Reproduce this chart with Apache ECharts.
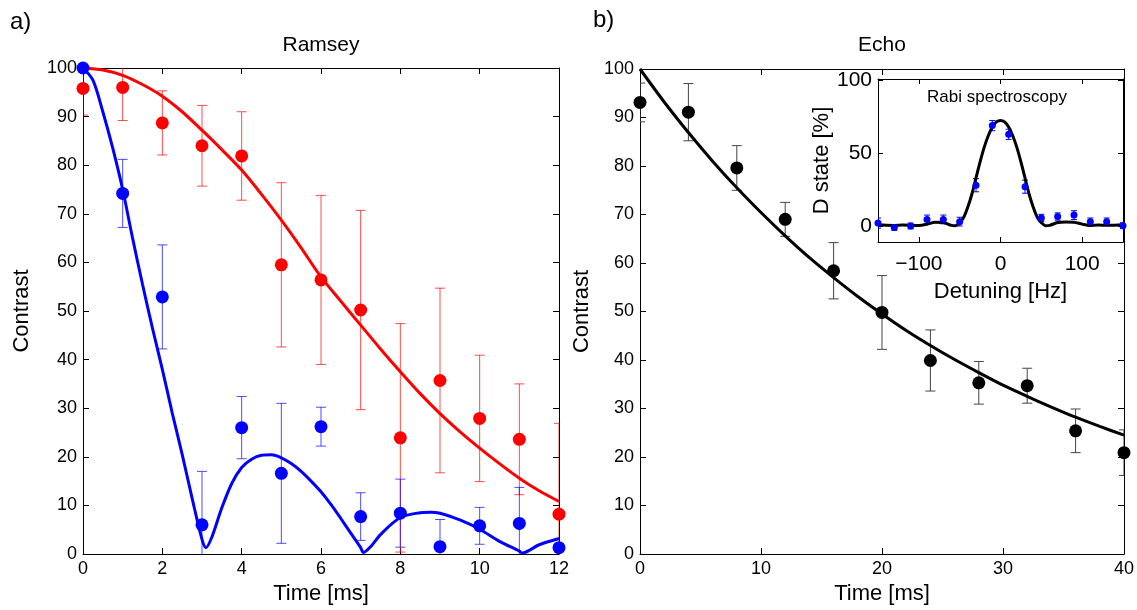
<!DOCTYPE html>
<html><head><meta charset="utf-8">
<script src="https://cdn.jsdelivr.net/npm/echarts@6/dist/echarts.min.js"></script>
<style>html,body{margin:0;padding:0;background:#fff}#c{width:1137px;height:610px}</style>
</head><body><div id="c"></div>
<script>
// ---------- data ----------
const ramseyT = [0,1,2,3,4,5,6,7,8,9,10,11,12];
const ramseyRed = [95.8,96,88.7,84,81.9,59.5,56.4,50.2,23.9,35.7,27.9,23.6,8.2];
const ramseyRedErr = [5.5,6.8,6.6,8.3,9.1,16.9,17.4,20.5,23.5,19,13,11.4,18.7];
const ramseyBlue = [100,74.2,52.9,6,26,16.6,26.2,7.7,8.4,1.5,5.8,6.3,1.3];
const ramseyBlueErr = [0,7,10.7,11,6.4,14.4,4,4.9,7,5.6,3.8,7.4,0];

const redFitT = [0,0.5,1,1.5,2,2.5,3,3.5,4,4.5,5,5.5,6,6.5,7,7.5,8,8.5,9,9.5,10,10.5,11,11.5,12];
const redFitY = [100,99.6,98.5,96.6,94.2,91,87.2,83.2,79,74,68.7,63,57,52,47.1,42.2,37.5,33,28.9,25.2,21.8,18.6,15.6,13,10.8];

const blueFitT = [0,0.25,0.5,0.75,1,1.25,1.5,1.75,2,2.25,2.5,2.75,3,3.1,3.25,3.5,3.75,4,4.25,4.5,4.75,5,5.25,5.5,5.75,6,6.25,6.5,6.75,7,7.07,7.25,7.5,8,8.5,8.75,9,9.5,10,10.5,11,11.07,11.5,12];
const blueFitY = [100,97.5,91,83.5,75,65,55.5,46.5,38,29,20.5,11.5,3,1.3,3.5,9.5,14.5,17.8,19.5,20.3,20.4,19.8,18.6,17,15,12.8,10.2,7.3,4.3,1.3,0.3,1.5,4,7.5,8.5,8.6,8.4,7,5.1,2.6,0.6,0.2,1.9,3.2];

const echoT = [0,4,8,12,16,20,24,28,32,36,40];
const echoY = [93.1,91.1,79.6,69,58.4,49.8,39.9,35.3,34.7,25.4,20.9];
const echoErr = [4,5.9,4.6,3.5,5.8,7.6,6.3,4.4,3.6,4.5,4.7];

const echoFitT = [0,2,4,6,8,10,12,14,16,18,20,22,24,26,28,30,32,34,36,38,40];
const echoFitY = [100,93.2,86.9,81,75.5,70.4,65.6,61.1,57,53.1,49.5,46.1,43,40.1,37.4,34.8,32.5,30.3,28.2,26.3,24.5];

const rabiDet = [-150,-130,-110,-90,-70,-50,-30,-10,10,30,50,70,90,110,130,150];
const rabiY = [2,-1,0,4.5,4.5,3,28,69,63,27,5.5,6.5,7.5,3,3,0.2];
const rabiErr = [3.5,2,2,3,3,3,4.5,3.5,3.5,4.5,2.5,2.5,3,2.5,2.5,2];

const rabiFitDet = [-150,-140,-130,-120,-110,-100,-90,-80,-70,-60,-55,-50,-45,-40,-35,-30,-25,-20,-15,-10,-5,0,5,10,15,20,25,30,35,40,45,50,55,60,70,80,90,100,110,120,130,140,150];
const rabiFitY = [0.8,0.5,0.4,0.6,0.5,0.3,1.2,2.6,2.4,0.4,0.2,2.3,6,13,22,33,44,54,62,68,71.5,72.5,71.5,68,62,54,44,33,22,13,6,2.3,0.2,0.4,2.4,2.8,2.6,1.3,0.4,0.6,0.5,0.5,0.8];

const xTicksRabi = [-100,0,100];
const yTicksRabi = [0,50,100];

// ---------- helpers ----------
const FONT = 'Liberation Sans, Arial, sans-serif';
const zip = (a,b) => a.map((v,i)=>[v,b[i]]);
const errData = (t,y,e) => t.map((v,i)=>[v,y[i]-e[i],y[i]+e[i]]).filter((d,i)=>e[i]>0);

function errRender(cap, color, w){
  return function(params, api){
    const x = api.value(0), lo = api.value(1), hi = api.value(2);
    const a = api.coord([x,hi]), b = api.coord([x,lo]);
    const st = {stroke:color, lineWidth:w};
    return {type:'group', children:[
      {type:'line', shape:{x1:a[0],y1:a[1],x2:b[0],y2:b[1]}, style:st},
      {type:'line', shape:{x1:a[0]-cap,y1:a[1],x2:a[0]+cap,y2:a[1]}, style:st},
      {type:'line', shape:{x1:b[0]-cap,y1:b[1],x2:b[0]+cap,y2:b[1]}, style:st}
    ]};
  };
}

const axLine = {show:true, onZero:false, lineStyle:{color:'#000', width:1}};
const tick = (len) => ({show:true, inside:true, length:len, lineStyle:{color:'#000', width:1}});
const lbl = (fs, margin) => ({color:'#000', fontSize:fs, fontFamily:FONT, margin:margin});
const nameStyle = (fs) => ({color:'#000', fontSize:fs, fontFamily:FONT});

function axisPair(gridIndex, min, max, interval, isX, name, nameGap){
  const base = {type:'value', gridIndex, min, max, interval, splitLine:{show:false}, axisLine:axLine, axisTick:tick(6)};
  const main = Object.assign({}, base, {
    position: isX ? 'bottom' : 'left',
    axisLabel: lbl(18, 6),
    name, nameLocation:'middle', nameGap, nameTextStyle:nameStyle(22)
  });
  const opp = Object.assign({}, base, {position: isX ? 'top' : 'right', axisLabel:{show:false}});
  return [main, opp];
}

const [x0a,x0b] = axisPair(0,0,12,2,true,'Time [ms]',26);
const [y0a,y0b] = axisPair(0,0,100,10,false,'Contrast',50);
const [x1a,x1b] = axisPair(1,0,40,10,true,'Time [ms]',26);
const [y1a,y1b] = axisPair(1,0,100,10,false,'Contrast',47);

const fmtMinus = v => v < 0 ? '\u2212' + (-v) : String(v);
const x2a = {type:'value', gridIndex:2, min:-150, max:150, position:'bottom', splitLine:{show:false}, axisLine:axLine,
  axisTick:Object.assign(tick(5),{customValues:xTicksRabi}),
  axisLabel:Object.assign(lbl(21,12),{customValues:xTicksRabi, formatter:fmtMinus}),
  name:'Detuning [Hz]', nameLocation:'middle', nameGap:39, nameTextStyle:nameStyle(22)};
const x2b = {type:'value', gridIndex:2, min:-150, max:150, position:'top', splitLine:{show:false}, axisLine:axLine,
  axisTick:Object.assign(tick(5),{customValues:xTicksRabi}), axisLabel:{show:false}};
const y2a = {type:'value', gridIndex:2, min:-11, max:101, position:'left', splitLine:{show:false}, axisLine:axLine,
  axisTick:Object.assign(tick(5),{customValues:yTicksRabi}),
  axisLabel:Object.assign(lbl(21,6),{customValues:yTicksRabi}),
  name:'D state [%]', nameLocation:'middle', nameGap:34, nameTextStyle:nameStyle(22)};
const y2b = {type:'value', gridIndex:2, min:-11, max:101, position:'right', splitLine:{show:false}, axisLine:axLine,
  axisTick:Object.assign(tick(5),{customValues:yTicksRabi}), axisLabel:{show:false}};

const RED='#ff0000', BLUE='#0000ff';

const option = {
  animation:false,
  backgroundColor:'#fff',
  textStyle:{fontFamily:FONT},
  grid:[
    {left:83, top:68, width:476, height:486},
    {left:640, top:69, width:485, height:485},
    {left:878, top:79, width:245, height:163, show:true, backgroundColor:'#fff', borderWidth:0, z:5}
  ],
  xAxis:[x0a,x0b,x1a,x1b,Object.assign(x2a,{z:6}),Object.assign(x2b,{z:6})],
  yAxis:[y0a,y0b,y1a,y1b,Object.assign(y2a,{z:6}),Object.assign(y2b,{z:6})],
  graphic:[
    {type:'text', left:10, top:10, z:100, style:{text:'a)', fontSize:24, fontFamily:FONT, fill:'#000'}},
    {type:'text', left:593, top:8, z:100, style:{text:'b)', fontSize:24, fontFamily:FONT, fill:'#000'}},
    {type:'text', x:321, y:45, z:100, style:{text:'Ramsey', fontSize:21, fontFamily:FONT, fill:'#000', align:'center', verticalAlign:'middle'}},
    {type:'text', x:882, y:45, z:100, style:{text:'Echo', fontSize:21, fontFamily:FONT, fill:'#000', align:'center', verticalAlign:'middle'}},
    {type:'text', x:997, y:97, z:100, style:{text:'Rabi spectroscopy', fontSize:17, fontFamily:FONT, fill:'#000', align:'center', verticalAlign:'middle'}}
  ],
  series:[
    // Ramsey
    {type:'custom', xAxisIndex:0, yAxisIndex:0, clip:true, renderItem:errRender(5,'rgba(255,0,0,0.7)',1), data:errData(ramseyT,ramseyRed,ramseyRedErr), z:2},
    {type:'custom', xAxisIndex:0, yAxisIndex:0, clip:true, renderItem:errRender(5,'rgba(0,0,255,0.7)',1), data:errData(ramseyT,ramseyBlue,ramseyBlueErr), z:2},
    {type:'line', xAxisIndex:0, yAxisIndex:0, data:zip(redFitT,redFitY), smooth:0.3, showSymbol:false, lineStyle:{color:RED,width:3}, z:3},
    {type:'line', xAxisIndex:0, yAxisIndex:0, data:zip(blueFitT,blueFitY), smooth:0.3, showSymbol:false, lineStyle:{color:BLUE,width:3}, z:3},
    {type:'scatter', xAxisIndex:0, yAxisIndex:0, clip:false, data:zip(ramseyT,ramseyRed), symbolSize:13, itemStyle:{color:RED, opacity:1}, z:4},
    {type:'scatter', xAxisIndex:0, yAxisIndex:0, clip:false, data:zip(ramseyT,ramseyBlue), symbolSize:13, itemStyle:{color:BLUE, opacity:1}, z:4},
    // Echo
    {type:'custom', xAxisIndex:2, yAxisIndex:2, clip:true, renderItem:errRender(5,'#444',1), data:errData(echoT,echoY,echoErr), z:2},
    {type:'line', xAxisIndex:2, yAxisIndex:2, data:zip(echoFitT,echoFitY), smooth:0.3, showSymbol:false, lineStyle:{color:'#000',width:3}, z:3},
    {type:'scatter', xAxisIndex:2, yAxisIndex:2, clip:false, data:zip(echoT,echoY), symbolSize:13, itemStyle:{color:'#000', opacity:1}, z:4},
    // Rabi inset
    {type:'custom', xAxisIndex:4, yAxisIndex:4, clip:true, renderItem:errRender(3,BLUE,1), data:errData(rabiDet,rabiY,rabiErr), z:7},
    {type:'line', xAxisIndex:4, yAxisIndex:4, data:zip(rabiFitDet,rabiFitY), smooth:0.3, showSymbol:false, lineStyle:{color:'#000',width:3}, z:8},
    {type:'scatter', xAxisIndex:4, yAxisIndex:4, clip:true, data:zip(rabiDet,rabiY), symbolSize:7, itemStyle:{color:BLUE, opacity:1}, z:9}
  ]
};
const chart = echarts.init(document.getElementById('c'), null, {renderer:'canvas'});
chart.setOption(option);
</script></body></html>
